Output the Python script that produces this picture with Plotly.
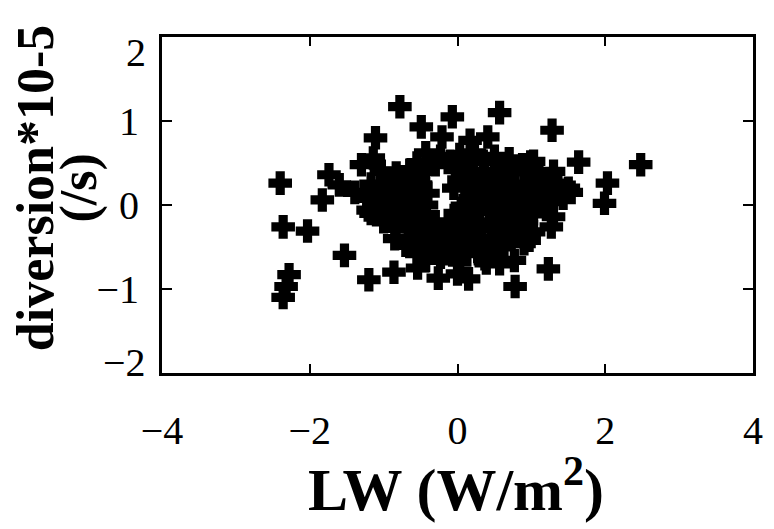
import plotly.graph_objects as go

# LW anomaly (W/m^2) and divergence*10^-5 (/s)
lw = [
    -2.40, -2.36, -2.03, -1.53, -2.28, -2.36, -2.32, -1.20, -0.86, -0.54,
    -0.26, 0.00, 0.15, 0.78, 1.23, 1.99, 2.03, 2.48, 1.64, 1.28,
    0.57, 0.41, -0.07, -0.78, -0.49, -0.21, 0.17, -1.11, -1.14, -1.30,
    -1.74, -1.60, -1.83, -1.39, -0.99, -1.21, -0.94, 0.99, 1.10, 1.54,
    1.27, 0.97, -0.37, 0.39, 0.00,
    -0.43, -0.23, 0.03, 0.23, 0.50, 0.70, 1.03,
    -1.03, -0.83, -0.63, -0.43, -0.03, 0.17, 0.37, 0.57, 0.77, 1.10, 1.30,
    -1.17, -0.90, -0.70, -0.50, 0.10, 0.30, 0.50, 0.90, 1.17, 1.36, 1.50,
    -1.23, -1.03, -0.83, -0.63, 0.17, 0.37, 0.63, 1.03, 1.23, 1.43,
    -1.17, -0.90, -0.70, -0.50, -0.03, 0.17, 0.43, 0.77, 1.03, 1.30,
    -0.83, -0.57, -0.37, -0.17, 0.03, 0.23, 0.50, 0.77, 1.03,
    -0.70, -0.50, -0.30, -0.10, 0.17, 0.37, 0.63, 0.90,
    -0.43, -0.23, 0.03, 0.37, 0.57, 0.77,
    0.25, 0.55, 0.30, 0.65, 0.85, -0.05, 0.00, 0.60, 0.45, 0.85,
    -0.55, -0.30, -0.10, 0.12, 0.35, 0.60, 0.88,
    -0.95, -0.75, -0.55, 0.02, 0.22, 0.42, 0.68, 1.00, 1.22,
    -1.05, -0.78, -0.58, -0.40, 0.20, 0.40, 0.72, 0.95, 1.15,
    -1.05, -0.80, -0.60, -0.42, 0.05, 0.28, 0.52, 0.75, 0.92, 1.15,
    -1.00, -0.78, -0.60, -0.30, -0.12, 0.08, 0.30, 0.62, 0.88,
    -0.85, -0.62, -0.45, -0.22, 0.05, 0.28, 0.45, 0.70,
    -0.55, -0.35, -0.12, 0.12, 0.28, 0.50,
]
divergence = [
    0.26, -0.26, -0.31, -0.60, -0.83, -1.10, -0.97, -0.89, -0.80, -0.75,
    -0.87, -0.82, -0.88, -0.97, -0.76, 0.02, 0.26, 0.48, 0.51, 0.89,
    1.10, 0.81, 1.05, 1.17, 0.93, 0.81, 0.77, 0.80, 0.56, 0.48,
    0.36, 0.24, 0.06, 0.15, 0.18, -0.06, -0.14, 0.51, 0.39, 0.15,
    -0.26, -0.42, 0.51, -0.69, -0.60,
    0.62, 0.58, 0.60, 0.62, 0.58, 0.55, 0.52,
    0.40, 0.38, 0.42, 0.40, 0.42, 0.38, 0.40, 0.36, 0.40, 0.38, 0.40,
    0.25, 0.22, 0.28, 0.24, 0.26, 0.22, 0.24, 0.25, 0.22, 0.26, 0.20,
    0.08, 0.05, 0.10, 0.06, 0.08, 0.05, 0.10, 0.08, 0.04, 0.08,
    -0.10, -0.12, -0.08, -0.14, -0.10, -0.12, -0.08, -0.12, -0.10, -0.14,
    -0.28, -0.32, -0.28, -0.30, -0.26, -0.32, -0.28, -0.30, -0.32,
    -0.48, -0.52, -0.46, -0.50, -0.48, -0.52, -0.50, -0.46,
    -0.66, -0.62, -0.68, -0.64, -0.70, -0.66,
    0.00, -0.18, -0.42, 0.45, 0.05, 0.20, -0.40, -0.05, 0.15, -0.30,
    0.50, 0.48, 0.52, 0.50, 0.52, 0.46, 0.48,
    0.32, 0.30, 0.34, 0.30, 0.32, 0.30, 0.32, 0.32, 0.30,
    0.16, 0.16, 0.18, 0.14, 0.16, 0.14, 0.16, 0.16, 0.14,
    -0.02, -0.04, -0.02, 0.00, -0.04, -0.02, 0.00, -0.02, -0.04, -0.02,
    -0.20, -0.20, -0.22, -0.20, -0.22, -0.18, -0.20, -0.22, -0.20,
    -0.40, -0.40, -0.38, -0.40, -0.38, -0.40, -0.40, -0.38,
    -0.58, -0.56, -0.58, -0.56, -0.58, -0.58,
]

x_tick_vals = [-4, -2, 0, 2, 4]
y_tick_vals = [-1, 0, 1]
y_edge_vals = [2, -2]
y_edge_pos = [1.81, -1.88]

x_title = "LW (W/m<sup>2</sup>)"
y_title_lines = ["diversion*10-5", "(/s)"]

serif = "Liberation Serif"
tick_font = dict(family=serif, size=40, color="black")

fig = go.Figure()
fig.add_trace(go.Scatter(
    x=lw, y=divergence, mode="markers",
    marker=dict(symbol="cross", size=18, color="black",
                line=dict(width=2, color="black")),
    showlegend=False,
))

fig.update_layout(
    width=774, height=529,
    margin=dict(l=162, r=11, t=37, b=156),
    paper_bgcolor="white", plot_bgcolor="white",
    xaxis=dict(
        range=[-4.0001, 4.0001], tickvals=x_tick_vals,
        ticks="inside", ticklen=9, tickwidth=2, tickcolor="black",
        showline=True, linewidth=3, linecolor="black", mirror="ticks",
        showgrid=False, zeroline=False, tickfont=tick_font,
        ticklabelstandoff=20,
    ),
    yaxis=dict(
        range=[-2, 2], tickvals=y_tick_vals,
        ticks="inside", ticklen=10, tickwidth=2, tickcolor="black",
        showline=True, linewidth=3, linecolor="black", mirror="ticks",
        showgrid=False, zeroline=False, tickfont=tick_font,
        ticklabelstandoff=12,
    ),
)

# edge tick labels (drawn slightly inside, as in the original)
for v, pos in zip(y_edge_vals, y_edge_pos):
    fig.add_annotation(
        x=0, xref="paper", xanchor="right", xshift=-14,
        y=pos, yref="y", yanchor="middle",
        text=("\u2212" + str(abs(v))) if v < 0 else str(v),
        showarrow=False, font=tick_font,
    )

# x-axis title
fig.add_annotation(
    x=0.497, xref="paper", y=-0.335, yref="paper",
    xanchor="center", yanchor="middle",
    text="<b>" + x_title + "</b>", showarrow=False,
    font=dict(family=serif, size=60, color="black"),
)

# y-axis title (two lines)
for xp, line in zip([-0.215, -0.14], y_title_lines):
    fig.add_annotation(
        x=xp, xref="paper", y=0.55, yref="paper",
        xanchor="center", yanchor="middle", textangle=-90,
        text="<b>" + line + "</b>", showarrow=False,
        font=dict(family=serif, size=52, color="black"),
    )

fig.write_html("out.html")
